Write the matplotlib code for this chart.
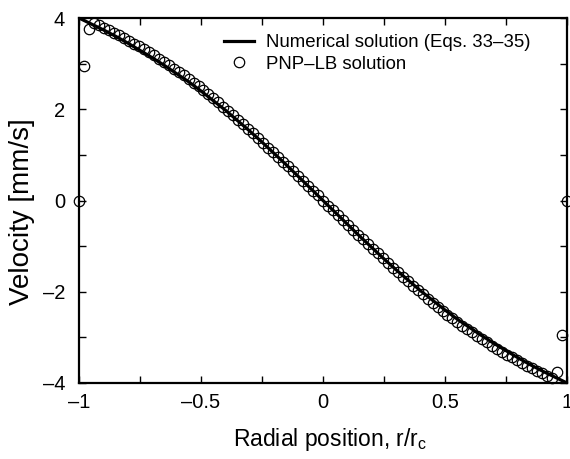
import numpy as np
import matplotlib
matplotlib.use("Agg")
import matplotlib.pyplot as plt
from matplotlib.ticker import MultipleLocator, FixedLocator, FixedFormatter

# Numerical solution (line)
line_x = [-1.00, -0.95, -0.90, -0.85, -0.80, -0.75, -0.70, -0.65, -0.60, -0.55, -0.50,
          -0.45, -0.40, -0.35, -0.30, -0.25, -0.20, -0.15, -0.10, -0.05, 0.00,
          0.05, 0.10, 0.15, 0.20, 0.25, 0.30, 0.35, 0.40, 0.45, 0.50,
          0.55, 0.60, 0.65, 0.70, 0.75, 0.80, 0.85, 0.90, 0.95, 1.00]
line_v = [4.00, 3.87, 3.74, 3.60, 3.45, 3.29, 3.13, 2.96, 2.78, 2.60, 2.40,
          2.19, 1.98, 1.75, 1.52, 1.28, 1.03, 0.78, 0.52, 0.26, 0.00,
          -0.26, -0.52, -0.78, -1.03, -1.28, -1.52, -1.75, -1.98, -2.19, -2.40,
          -2.60, -2.78, -2.96, -3.13, -3.29, -3.45, -3.60, -3.74, -3.87, -4.00]

# PNP-LB solution (circles), lattice nodes across the channel
lb_x = np.linspace(-1.0, 1.0, 99)
lb_v = [0.00, 2.95, 3.75, 3.89, 3.84, 3.79, 3.74, 3.68, 3.62, 3.56,
        3.50, 3.44, 3.38, 3.31, 3.25, 3.18, 3.11, 3.04, 2.97, 2.89,
        2.82, 2.74, 2.67, 2.58, 2.50, 2.42, 2.33, 2.24, 2.15, 2.06,
        1.96, 1.87, 1.77, 1.67, 1.57, 1.47, 1.37, 1.27, 1.16, 1.06,
        0.95, 0.85, 0.75, 0.64, 0.53, 0.42, 0.32, 0.21, 0.11, 0.00,
        -0.11, -0.21, -0.32, -0.42, -0.53, -0.64, -0.75, -0.85, -0.95, -1.06,
        -1.16, -1.27, -1.37, -1.47, -1.57, -1.67, -1.77, -1.87, -1.96, -2.06,
        -2.15, -2.24, -2.33, -2.42, -2.50, -2.58, -2.67, -2.74, -2.82, -2.89,
        -2.97, -3.04, -3.11, -3.18, -3.25, -3.31, -3.38, -3.44, -3.50, -3.56,
        -3.62, -3.68, -3.74, -3.79, -3.84, -3.89, -3.75, -2.95, 0.00]

x_ticks = [-1, -0.5, 0, 0.5, 1]
x_tick_labels = ['\u20131', '\u20130.5', '0', '0.5', '1']
y_ticks = [-4, -2, 0, 2, 4]
y_tick_labels = ['\u20134', '\u20132', '0', '2', '4']

plt.rcParams['font.family'] = ['Liberation Sans', 'DejaVu Sans']
plt.rcParams['mathtext.fontset'] = 'custom'
plt.rcParams['mathtext.rm'] = 'Liberation Sans'

fig = plt.figure(figsize=(5.70, 4.59), dpi=100)
ax = fig.add_axes([79/570, (459-383)/459, (567-79)/570, (383-18)/459])

ax.plot(line_x, line_v, color='black', lw=2.3, label='Numerical solution (Eqs. 33\u201335)', zorder=3)
ax.plot(lb_x, lb_v, linestyle='none', marker='o', ms=7.5, mfc='none', mec='black',
        mew=0.9, label='PNP\u2013LB solution', clip_on=False, zorder=4)

ax.set_xlim(-1, 1)
ax.set_ylim(-4, 4)
ax.xaxis.set_major_locator(FixedLocator(x_ticks))
ax.xaxis.set_major_formatter(FixedFormatter(x_tick_labels))
ax.yaxis.set_major_locator(FixedLocator(y_ticks))
ax.yaxis.set_major_formatter(FixedFormatter(y_tick_labels))
ax.xaxis.set_minor_locator(MultipleLocator(0.25))
ax.yaxis.set_minor_locator(MultipleLocator(1))
ax.tick_params(which='both', direction='in', top=True, right=True, labelsize=14.5,
               length=5, width=1.0)
ax.tick_params(axis='x', which='major', pad=7)
ax.tick_params(axis='y', which='major', pad=10)
for s in ax.spines.values():
    s.set_linewidth(1.6)

ax.set_xlabel('Radial position, r/r$_\\mathregular{c}$', fontsize=16.5)
ax.set_ylabel('Velocity [mm/s]', fontsize=20)
ax.xaxis.set_label_coords((330-79)/488, (383-453)/365)
ax.yaxis.set_label_coords((9-79)/488, (383-212)/365)
ax.xaxis.label.set_va('bottom')
ax.yaxis.label.set_va('top')

ax.legend(loc='upper left', bbox_to_anchor=((224-79)/488, (383-34)/365), frameon=False,
          fontsize=13.4, handlelength=1.6, handletextpad=0.65, labelspacing=0.25,
          borderaxespad=0.0, borderpad=0.0)

fig.savefig('out.png', dpi=100)
